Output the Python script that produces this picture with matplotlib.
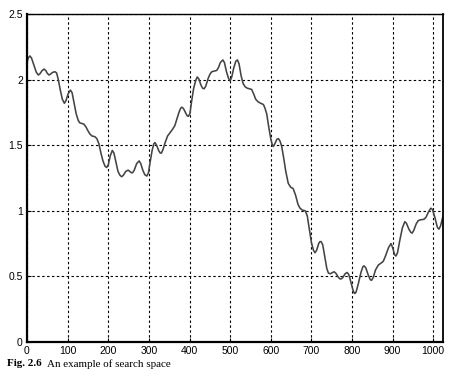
import matplotlib.pyplot as plt
from matplotlib.ticker import FuncFormatter

# points (x, objective value)
xs = [0, 3, 7, 11, 17, 23, 28, 32, 37, 42, 46, 50, 54, 58, 63, 69, 73, 77, 82, 87,
      92, 96, 101, 107, 111, 116, 121, 126, 130, 136, 140, 145, 150, 155, 160, 167, 172, 177, 182, 187,
      192, 196, 200, 205, 210, 214, 219, 224, 229, 233, 237, 243, 249, 253, 257, 260, 264, 270, 276, 280,
      285, 290, 295, 299, 303, 308, 312, 315, 319, 324, 328, 331, 335, 340, 346, 352, 358, 364, 369, 374,
      378, 381, 385, 390, 394, 397, 401, 405, 410, 415, 419, 423, 428, 432, 436, 440, 446, 451, 455, 461,
      467, 471, 476, 482, 486, 491, 496, 500, 504, 509, 514, 518, 522, 527, 532, 537, 542, 548, 553, 558,
      563, 569, 575, 582, 586, 590, 595, 600, 604, 606, 610, 615, 619, 623, 627, 632, 637, 643, 649, 655,
      661, 667, 672, 678, 685, 690, 695, 700, 705, 709, 713, 718, 721, 724, 728, 733, 738, 742, 747, 752,
      756, 760, 766, 770, 773, 777, 783, 788, 792, 797, 802, 805, 807, 810, 816, 822, 827, 830, 834, 840,
      845, 848, 852, 858, 865, 871, 877, 883, 890, 896, 900, 905, 908, 912, 918, 924, 930, 934, 940, 945,
      948, 952, 958, 963, 967, 972, 977, 982, 988, 994, 998, 1004, 1010, 1014, 1018, 1024]
ys = [2.13, 2.165, 2.18, 2.165, 2.11, 2.055, 2.035, 2.045, 2.068, 2.08, 2.07, 2.048, 2.035, 2.042, 2.055, 2.06, 2.05, 2.0, 1.92, 1.85,
      1.82, 1.84, 1.89, 1.92, 1.90, 1.82, 1.74, 1.69, 1.67, 1.665, 1.66, 1.64, 1.61, 1.585, 1.57, 1.565, 1.55, 1.51, 1.44, 1.38,
      1.34, 1.33, 1.35, 1.42, 1.46, 1.44, 1.37, 1.30, 1.27, 1.26, 1.27, 1.30, 1.31, 1.30, 1.29, 1.29, 1.31, 1.36, 1.38, 1.36,
      1.31, 1.275, 1.265, 1.29, 1.37, 1.46, 1.51, 1.52, 1.50, 1.46, 1.44, 1.44, 1.47, 1.52, 1.57, 1.595, 1.62, 1.65, 1.70, 1.75,
      1.78, 1.79, 1.78, 1.75, 1.725, 1.72, 1.74, 1.83, 1.93, 1.99, 2.02, 2.005, 1.96, 1.935, 1.93, 1.95, 2.01, 2.045, 2.06, 2.065,
      2.07, 2.09, 2.13, 2.15, 2.13, 2.06, 2.01, 1.99, 2.02, 2.09, 2.14, 2.15, 2.12, 2.03, 1.97, 1.945, 1.935, 1.93, 1.925, 1.89,
      1.85, 1.83, 1.82, 1.81, 1.78, 1.74, 1.64, 1.55, 1.50, 1.49, 1.51, 1.545, 1.55, 1.53, 1.49, 1.40, 1.30, 1.21, 1.18, 1.17,
      1.12, 1.05, 1.02, 1.005, 1.0, 0.96, 0.86, 0.76, 0.70, 0.68, 0.70, 0.75, 0.765, 0.765, 0.74, 0.65, 0.56, 0.525, 0.52, 0.53,
      0.535, 0.525, 0.495, 0.482, 0.48, 0.49, 0.52, 0.53, 0.515, 0.46, 0.40, 0.375, 0.37, 0.38, 0.45, 0.53, 0.575, 0.58, 0.565, 0.51,
      0.475, 0.47, 0.49, 0.55, 0.587, 0.60, 0.615, 0.66, 0.72, 0.75, 0.72, 0.665, 0.655, 0.68, 0.78, 0.87, 0.917, 0.905, 0.86, 0.835,
      0.83, 0.85, 0.90, 0.925, 0.93, 0.933, 0.935, 0.95, 0.99, 1.02, 1.01, 0.95, 0.875, 0.86, 0.885, 0.96]

xticks = list(range(0, 1001, 100))
yticks = [0, 0.5, 1, 1.5, 2, 2.5]

fig = plt.figure(figsize=(4.68, 3.86), dpi=100)
ax = fig.add_axes([27/468, 1-342/386, 416/468, 328/386])

ax.plot(xs, ys, color='#444444', lw=1.15)

ax.set_xlim(0, 1024)
ax.set_ylim(0, 2.5)
ax.set_xticks(xticks)
ax.set_yticks(yticks)
ax.yaxis.set_major_formatter(FuncFormatter(lambda v, p: ('%g' % v)))
ax.grid(True, color='black', linestyle=(0, (2.2, 2.2)), lw=0.8)
ax.tick_params(direction='in', length=3, width=0.8, labelsize=7.5, pad=3)
for lab in ax.get_xticklabels() + ax.get_yticklabels():
    lab.set_family('Liberation Sans')

ax.spines['left'].set_linewidth(1.6)
ax.spines['bottom'].set_linewidth(1.6)
ax.spines['top'].set_linewidth(1.0)
ax.spines['right'].set_linewidth(1.3)

fig.text(7/468, 1-364/386, 'Fig. 2.6', family='Liberation Serif', weight='bold', fontsize=7.9, va='center')
fig.text(47/468, 1-364/386, 'An example of search space', family='Liberation Serif', fontsize=7.9, va='center')

fig.savefig('out.png', dpi=100)
